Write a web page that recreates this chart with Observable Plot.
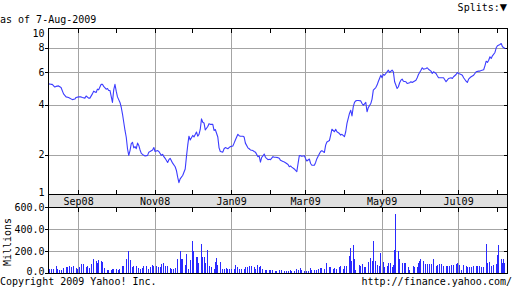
<!DOCTYPE html>
<html>
<head>
<meta charset="utf-8">
<script src="https://cdn.jsdelivr.net/npm/d3@7"></script>
<script src="https://cdn.jsdelivr.net/npm/@observablehq/plot@0.6"></script>
<style>
  html, body { margin: 0; padding: 0; background: #fff; }
  #chart { position: relative; width: 512px; height: 288px; overflow: hidden; background: #fff;
           font-family: "DejaVu Sans Mono", monospace; font-size: 10px; color: #000; }
  .t { position: absolute; line-height: 12px; white-space: nowrap; }
</style>
</head>
<body>
<div id="chart">
  <div id="band" style="position:absolute;left:48px;top:194px;width:460px;height:14px;background:#e0e0e0;box-sizing:border-box;border-left:1px solid #000;border-right:1px solid #000;"></div>
</div>
<script>
// ---- data ----
const startDate = "2008-08-08";      // first trading day shown
const asOf = "as of 7-Aug-2009";
const splitsLabel = "Splits:";
const splitsMarker = "\u25BC";
const copyright = "Copyright 2009 Yahoo! Inc.";
const source = "http://finance.yahoo.com/";
const volumeUnit = "Millions";

// [days since startDate, closing price]
const priceByDay = [
[0,5.23],[2,5.2],[3,5.2],[5,5.03],[6,5.07],[8,5.1],[10,5.0],[12,4.62],[14,4.45],[16,4.42],[19,4.3],[21,4.33],[22,4.42],[24,4.45],[26,4.45],[27,4.42],[29,4.38],[30,4.5],[32,4.38],[33,4.38],[35,4.62],[36,4.78],[38,4.7],[39,4.9],[40,4.86],[42,5.2],[43,5.2],[44,5.07],[46,4.9],[47,4.94],[48,4.82],[49,4.82],[51,4.15],[52,4.86],[53,5.2],[54,4.78],[55,4.45],[57,4.15],[58,3.9],[59,3.57],[60,3.2],[61,2.86],[62,2.6],[63,2.2],[64,1.99],[65,2.14],[66,2.37],[67,2.42],[68,2.23],[69,2.27],[70,2.2],[71,2.39],[72,2.31],[73,2.16],[74,2.05],[76,1.99],[77,1.97],[79,1.99],[80,2.09],[81,2.11],[83,2.16],[84,2.24],[85,2.11],[87,2.14],[88,2.11],[90,1.99],[91,2.02],[92,1.95],[93,1.9],[95,1.78],[96,1.86],[97,1.9],[99,1.76],[101,1.66],[102,1.56],[103,1.39],[104,1.26],[105,1.35],[106,1.39],[107,1.43],[109,1.6],[110,1.95],[111,2.31],[112,2.64],[113,2.5],[115,2.67],[116,2.61],[118,2.8],[119,2.64],[120,2.71],[121,2.9],[122,3.35],[123,3.2],[124,3.17],[125,2.88],[127,3.02],[128,3.14],[129,3.11],[131,3.11],[132,2.86],[133,2.9],[135,2.61],[136,2.23],[137,2.11],[139,2.09],[140,2.2],[141,2.24],[143,2.2],[144,2.24],[145,2.27],[147,2.29],[148,2.39],[149,2.5],[151,2.71],[152,2.66],[153,2.64],[155,2.64],[156,2.61],[157,2.39],[159,2.23],[160,2.2],[161,2.16],[163,2.14],[164,2.11],[165,2.09],[167,1.95],[168,1.97],[169,1.79],[170,1.93],[171,1.97],[172,2.03],[173,1.93],[175,1.86],[176,1.87],[177,1.86],[179,1.95],[180,1.93],[181,1.93],[183,1.92],[184,1.9],[185,1.84],[187,1.81],[188,1.79],[189,1.77],[191,1.72],[192,1.66],[193,1.68],[194,1.65],[196,1.6],[197,1.56],[198,1.53],[199,1.75],[200,1.98],[201,1.98],[202,1.96],[204,1.98],[205,1.89],[206,1.82],[208,1.88],[209,1.75],[210,1.7],[212,1.7],[213,1.78],[214,1.89],[216,2.04],[217,2.11],[218,2.14],[220,2.08],[221,2.32],[222,2.43],[224,2.48],[225,2.68],[226,2.91],[228,2.81],[229,2.91],[230,2.81],[232,2.74],[233,2.68],[234,2.71],[236,2.62],[237,2.81],[238,3.15],[240,3.6],[241,3.75],[242,3.48],[243,3.92],[244,4.15],[245,4.23],[246,4.25],[247,4.25],[249,4.23],[250,4.09],[251,4.0],[253,4.15],[254,3.68],[255,3.88],[257,4.09],[258,4.33],[259,4.84],[261,5.0],[262,5.15],[263,5.38],[265,5.81],[266,5.64],[267,5.87],[268,5.81],[269,5.93],[271,6.17],[272,6.0],[274,6.17],[275,6.05],[276,5.37],[278,4.94],[279,5.05],[280,5.3],[281,5.47],[282,5.54],[283,5.4],[285,5.37],[286,5.25],[288,5.3],[289,5.37],[290,5.32],[291,5.37],[293,5.47],[294,5.63],[295,5.86],[297,6.17],[298,6.35],[299,6.24],[301,6.3],[302,6.35],[303,6.24],[305,6.1],[306,5.93],[307,6.05],[309,5.93],[310,5.77],[311,5.63],[313,5.63],[314,5.63],[315,5.63],[317,5.37],[318,5.47],[319,5.58],[321,5.63],[322,5.58],[323,5.7],[325,5.86],[326,6.0],[327,5.93],[329,5.86],[330,5.81],[331,5.63],[333,5.4],[334,5.32],[335,5.54],[336,5.63],[337,5.7],[339,5.81],[340,5.93],[341,6.05],[343,6.1],[344,6.1],[345,6.15],[347,6.2],[348,6.5],[349,6.86],[350,6.76],[351,6.94],[352,7.23],[353,7.08],[354,7.31],[356,7.6],[357,8.02],[358,8.21],[360,8.33],[361,8.43],[362,8.12],[364,7.96]
];

// [days since startDate, volume in millions]
const volumeByDay = [
[1,39],[2,39],[4,39],[6,67],[7,39],[9,30],[10,30],[12,45],[14,58],[15,58],[17,67],[18,52],[20,64],[22,45],[23,39],[25,52],[26,85],[28,85],[30,58],[31,64],[33,45],[34,85],[36,130],[38,106],[39,91],[40,121],[42,112],[43,100],[45,45],[47,27],[48,27],[50,27],[51,39],[52,33],[54,39],[56,27],[57,39],[59,67],[60,67],[62,130],[64,197],[65,121],[67,52],[68,67],[70,67],[72,45],[73,39],[75,45],[76,67],[78,67],[80,39],[81,52],[83,76],[84,67],[86,67],[88,52],[89,58],[90,85],[92,91],[93,61],[95,64],[97,45],[98,39],[100,33],[101,45],[103,130],[105,197],[106,130],[107,130],[109,76],[110,173],[112,33],[113,121],[115,294],[116,197],[118,148],[119,142],[120,91],[122,267],[123,142],[124,142],[125,94],[127,212],[128,67],[130,58],[132,39],[133,103],[134,136],[135,76],[137,100],[139,39],[140,39],[142,45],[143,39],[144,39],[146,39],[148,39],[149,76],[151,58],[152,39],[154,39],[156,39],[157,52],[159,58],[160,67],[162,61],[164,58],[165,39],[167,76],[168,58],[169,67],[171,39],[173,30],[174,30],[176,30],[177,30],[179,30],[181,15],[182,21],[184,30],
[186,30],[188,21],[190,21],[191,15],[193,27],[194,21],[196,21],[198,39],[199,30],[201,45],[202,27],[204,21],[206,15],[207,21],[209,45],[210,27],[212,30],[214,30],[215,39],[217,45],[218,45],[220,39],[222,91],[224,58],[225,58],[227,39],[228,45],[230,39],[232,52],[233,61],[235,39],[236,67],[238,67],[240,152],[241,227],[242,112],[243,258],[244,130],[245,30],[248,76],[249,61],[250,82],[252,58],[253,58],[255,100],[257,136],[258,112],[259,288],[261,106],[262,76],[264,64],[265,182],[267,100],[268,58],[270,67],[271,91],[273,91],[274,58],[275,70],[276,212],[277,539],[279,203],[280,130],[282,91],[284,91],[285,91],[287,52],[288,27],[291,67],[292,58],[294,58],[295,91],[296,112],[297,130],[299,112],[301,82],[302,82],[304,82],[305,82],[307,130],[309,61],[310,76],[312,82],[313,82],[315,64],[317,61],[318,61],[320,67],[321,70],[323,76],[325,82],[326,91],[328,76],[329,27],[331,70],[333,64],[334,58],[336,52],[337,58],[339,64],[341,61],[342,64],[344,64],[345,58],[347,52],[349,267],[350,91],[352,100],[353,64],[355,76],[357,82],[358,161],[359,251],[361,130],[362,91],[363,130],[364,94]
];

const xDomain = ["2008-08-08", "2009-08-09"];
const labeledMonths = ["2008-09-01","2008-11-01","2009-01-01","2009-03-01","2009-05-01","2009-07-01"];
const otherMonths = ["2008-10-01","2008-12-01","2009-02-01","2009-04-01","2009-06-01","2009-08-01"];
const priceTicks = [2, 4, 6, 8];
const priceTop = 10, priceBottom = 1;
const volumeTicks = [200, 400, 600];

// ---- build ----
const t0 = new Date(startDate + "T00:00Z");
const priceData = priceByDay.map(([d, v]) => ({date: d3.utcDay.offset(t0, d), value: v}));
const volumeData = volumeByDay.map(([d, v]) => ({date: d3.utcDay.offset(t0, d), value: v}));
const toDate = s => new Date(s + "T00:00Z");
const major = labeledMonths.map(toDate);
const allMonths = labeledMonths.concat(otherMonths).map(toDate);
const dom = xDomain.map(toDate);

const GRID = "#a4a4a4";
const font = {background: "transparent", fontFamily: "DejaVu Sans Mono", fontSize: "10px", color: "#000", overflow: "visible"};

const price = Plot.plot({
  width: 512, height: 207,
  marginTop: 28, marginBottom: 13, marginLeft: 48, marginRight: 5,
  style: font,
  x: {type: "utc", domain: dom, label: null},
  y: {type: "symlog", constant: 1, domain: [priceBottom, priceTop], label: null},
  marks: [
    Plot.gridX(major, {stroke: GRID, strokeOpacity: 1, shapeRendering: "crispEdges"}),
    Plot.gridY(priceTicks, {stroke: GRID, strokeOpacity: 1, shapeRendering: "crispEdges"}),
    Plot.axisY(priceTicks, {anchor: "left", tickSize: 3, tickPadding: 1, label: null, shapeRendering: "crispEdges"}),
    Plot.axisY([priceTop], {anchor: "left", tickSize: 0, tickPadding: 4, dy: 5, label: null}),
    Plot.axisY([priceBottom], {anchor: "left", tickSize: 0, tickPadding: 4, dy: -1.5, label: null}),
    Plot.axisY(priceTicks, {anchor: "right", tickSize: -4, fill: "none", label: null, shapeRendering: "crispEdges"}),
    Plot.axisX(allMonths, {anchor: "top", tickSize: -4, fill: "none", label: null, shapeRendering: "crispEdges"}),
    Plot.axisX(allMonths, {anchor: "bottom", tickSize: -4, fill: "none", label: null, shapeRendering: "crispEdges"}),
    Plot.axisX(major, {anchor: "bottom", tickSize: 0, tickPadding: 3, tickFormat: d3.utcFormat("%b%y"), label: null}),
    Plot.line(priceData, {x: "date", y: "value", stroke: "#3c3cff", strokeWidth: 1.1}),
    Plot.frame({stroke: "#000", shapeRendering: "crispEdges"})
  ]
});
price.style.position = "absolute"; price.style.left = "0px"; price.style.top = "0px";

const volume = Plot.plot({
  width: 512, height: 88,
  marginTop: 7, marginBottom: 15, marginLeft: 48, marginRight: 5,
  style: font,
  x: {type: "utc", domain: dom, label: null},
  y: {domain: [0, 600], label: null},
  marks: [
    Plot.gridX(major, {stroke: GRID, strokeOpacity: 1, shapeRendering: "crispEdges"}),
    Plot.gridY([200, 400], {stroke: GRID, strokeOpacity: 1, shapeRendering: "crispEdges"}),
    Plot.axisY([0].concat(volumeTicks), {anchor: "left", tickSize: 3, fill: "none", label: null, shapeRendering: "crispEdges"}),
    Plot.axisY(volumeTicks, {anchor: "left", tickSize: 0, tickPadding: 4, tickFormat: d3.format(".1f"), label: null}),
    Plot.axisY([0], {anchor: "left", tickSize: 0, tickPadding: 4, tickFormat: d3.format(".1f"), dy: -2, label: null}),
    Plot.axisY([200, 400], {anchor: "right", tickSize: -4, fill: "none", label: null, shapeRendering: "crispEdges"}),
    Plot.axisX(allMonths, {anchor: "top", tickSize: -4, fill: "none", label: null, shapeRendering: "crispEdges"}),
    Plot.ruleX(volumeData, {x: "date", y1: 0, y2: "value", stroke: "#2a2aff", strokeWidth: 1, shapeRendering: "crispEdges"}),
    Plot.frame({stroke: "#000", shapeRendering: "crispEdges"})
  ]
});
volume.style.position = "absolute"; volume.style.left = "0px"; volume.style.top = "200px";

const chart = document.getElementById("chart");
chart.appendChild(price);
chart.appendChild(volume);

function addText(txt, css) {
  const d = document.createElement("div");
  d.className = "t";
  d.textContent = txt;
  Object.assign(d.style, css);
  chart.appendChild(d);
  return d;
}
addText(asOf, {left: "0px", top: "13.5px"});
const sp = addText(splitsLabel, {right: "5px", top: "1px", lineHeight: "13px"});
const tri = document.createElement("span");
tri.textContent = splitsMarker;
tri.style.fontSize = "12px";
sp.appendChild(tri);
addText(copyright, {left: "0px", top: "275.5px"});
addText(source, {right: "0px", top: "275.5px"});
addText(volumeUnit, {left: "8px", top: "241.5px", transform: "translate(-50%,-50%) rotate(-90deg)"});
</script>
</body>
</html>
